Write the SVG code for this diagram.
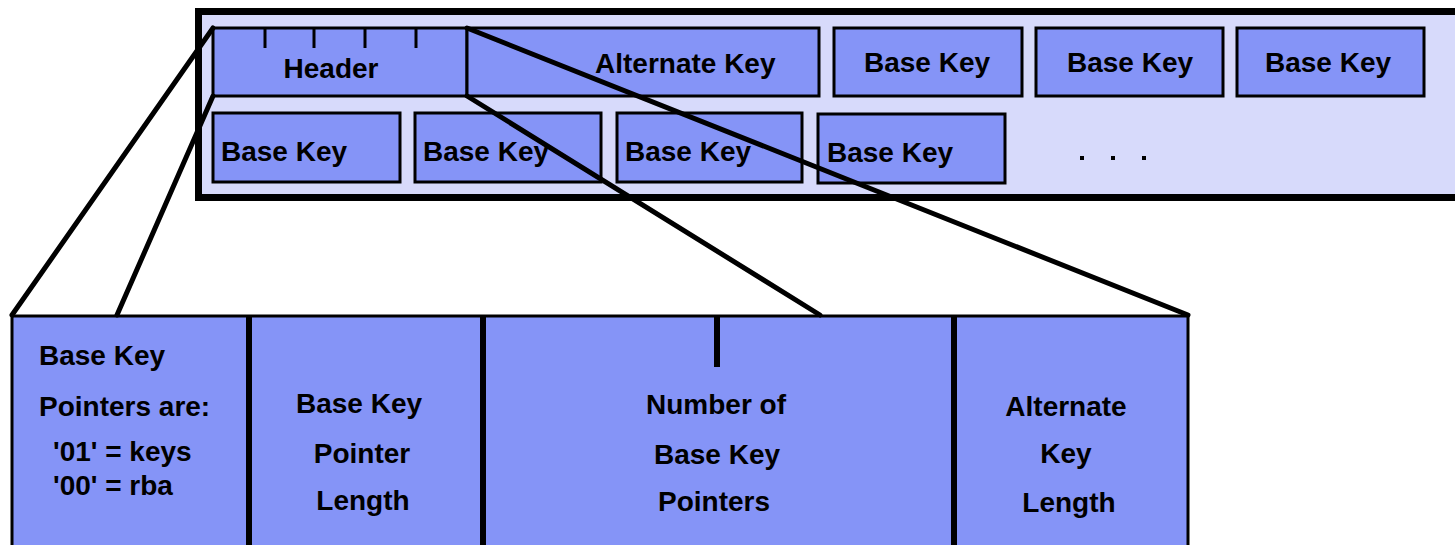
<svg xmlns="http://www.w3.org/2000/svg" width="1455" height="545" viewBox="0 0 1455 545">
<style>
.box{fill:#8594F7;stroke:#000;stroke-width:3}
.t{font-family:"Liberation Sans",Arial,sans-serif;font-weight:bold;font-size:28px;fill:#000}
.c{text-anchor:middle}
.conn{stroke:#000;stroke-width:5;fill:none;stroke-linecap:round}
.tick{stroke:#000;stroke-width:3}
</style>
<rect width="1455" height="545" fill="#fff"/>
<g id="container">
<rect x="198.5" y="11.5" width="1280" height="186" fill="#D7DAFB" stroke="#000" stroke-width="7"/>
</g>
<g id="header">
<rect class="box" x="213" y="28" width="254" height="68"/>
<line class="tick" x1="265" y1="28" x2="265" y2="48"/>
<line class="tick" x1="314" y1="28" x2="314" y2="48"/>
<line class="tick" x1="365" y1="28" x2="365" y2="48"/>
<line class="tick" x1="416" y1="28" x2="416" y2="48"/>
<text class="t c" x="331" y="78">Header</text>
</g>
<g id="altkey">
<rect class="box" x="467" y="28" width="352" height="68"/>
<text class="t" x="595" y="73">Alternate Key</text>
</g>
<g id="bk1"><rect class="box" x="834" y="28" width="188" height="68"/><text class="t c" x="927" y="72">Base Key</text></g>
<g id="bk2"><rect class="box" x="1036" y="28" width="187" height="68"/><text class="t c" x="1130" y="72">Base Key</text></g>
<g id="bk3"><rect class="box" x="1237" y="28" width="187" height="68"/><text class="t c" x="1328" y="72">Base Key</text></g>
<g id="bk4"><rect class="box" x="213" y="113" width="187" height="69"/><text class="t" x="221" y="161">Base Key</text></g>
<g id="bk5"><rect class="box" x="415" y="113" width="186" height="69"/><text class="t" x="423" y="161">Base Key</text></g>
<g id="bk6"><rect class="box" x="617" y="113" width="185" height="69"/><text class="t" x="625" y="161">Base Key</text></g>
<g id="bk7"><rect class="box" x="818" y="114" width="187" height="69"/><text class="t" x="827" y="162">Base Key</text></g>
<g id="dots">
<rect x="1080" y="156" width="4" height="4" fill="#000"/>
<rect x="1111" y="156" width="4" height="4" fill="#000"/>
<rect x="1142" y="156" width="4" height="4" fill="#000"/>
</g>
<g id="detail">
<rect class="box" x="12" y="316" width="1176" height="250"/>
<rect x="246" y="316" width="6" height="240" fill="#000"/>
<rect x="480" y="316" width="6" height="240" fill="#000"/>
<rect x="951" y="316" width="6" height="240" fill="#000"/>
<rect x="714" y="316" width="6" height="51" fill="#000"/>
</g>
<g id="f1">
<text class="t" x="39" y="365">Base Key</text>
<text class="t" x="39" y="416">Pointers are:</text>
<text class="t" x="53" y="461">'01' = keys</text>
<text class="t" x="53" y="495">'00' = rba</text>
</g>
<g id="f2">
<text class="t c" x="359" y="413">Base Key</text>
<text class="t c" x="362" y="463">Pointer</text>
<text class="t c" x="363" y="510">Length</text>
</g>
<g id="f3">
<text class="t c" x="716" y="414">Number of</text>
<text class="t c" x="717" y="464">Base Key</text>
<text class="t c" x="714" y="511">Pointers</text>
</g>
<g id="f4">
<text class="t c" x="1066" y="416">Alternate</text>
<text class="t c" x="1066" y="463">Key</text>
<text class="t c" x="1069" y="512">Length</text>
</g>
<g id="connectors">
<line class="conn" x1="213" y1="28" x2="12" y2="315"/>
<line class="conn" x1="213" y1="96" x2="117" y2="315"/>
<line class="conn" x1="467" y1="96" x2="820" y2="315"/>
<line class="conn" x1="467" y1="28" x2="1188" y2="315"/>
</g>
</svg>
